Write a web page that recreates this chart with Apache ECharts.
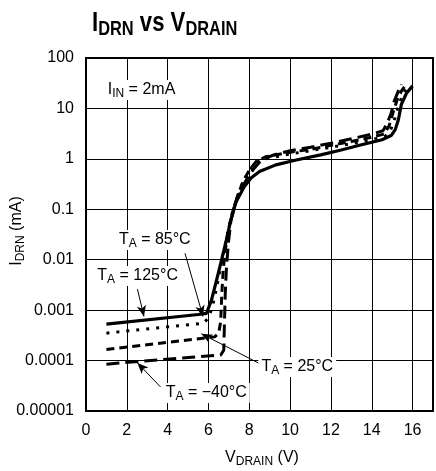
<!DOCTYPE html>
<html><head><meta charset="utf-8">
<script src="https://cdn.jsdelivr.net/npm/echarts@6/dist/echarts.min.js"></script>
<style>html,body{margin:0;padding:0;background:#fff}#c{width:436px;height:471px}</style>
</head><body><div id="c"></div>
<script>
// ---- data ----
const xTickValues = [0, 2, 4, 6, 8, 10, 12, 14, 16];
const yTickLabels = ['0.00001', '0.0001', '0.001', '0.01', '0.1', '1', '10', '100'];

// T_A = 125°C (solid)
const v125 = [1, 5.5, 5.9, 6.15, 6.4, 6.6, 6.85, 7.1, 7.35, 7.75, 8.1, 8.5, 9.3, 10.3, 11.5, 12.5, 13.5, 14.5, 14.95, 15.15, 15.3, 15.45, 15.7, 16.0];
const i125 = [0.00053, 0.00082, 0.00086, 0.0016, 0.004, 0.0085, 0.022, 0.062, 0.14, 0.28, 0.42, 0.56, 0.76, 0.95, 1.2, 1.5, 1.9, 2.4, 2.9, 3.8, 5.9, 12, 20, 28];
// T_A = 85°C (dotted)
const v85 = [1, 5.75, 6.0, 6.2, 6.4, 6.55, 6.7, 6.9, 7.1, 7.35, 7.65, 7.95, 8.3, 8.8, 10, 11, 12, 13, 14, 14.65, 14.9, 15.1, 15.3, 15.5, 15.7];
const i85 = [0.00035, 0.00055, 0.0007, 0.0012, 0.0028, 0.006, 0.012, 0.028, 0.065, 0.15, 0.32, 0.55, 0.85, 1.0, 1.25, 1.45, 1.7, 2.0, 2.4, 2.8, 3.5, 5.8, 11, 18, 25];
// T_A = 25°C (short dash)
const v25 = [1, 6.3, 6.5, 6.6, 6.65, 6.72, 6.82, 6.95, 7.15, 7.4, 7.7, 8.0, 8.35, 8.8, 10, 11, 12, 13, 14, 14.6, 14.85, 15.05, 15.25, 15.45, 15.6];
const i25 = [0.000166, 0.000295, 0.00035, 0.0006, 0.002, 0.006, 0.015, 0.035, 0.08, 0.17, 0.36, 0.6, 0.9, 1.1, 1.35, 1.55, 1.85, 2.2, 2.7, 3.1, 4.5, 8.5, 15, 22, 27];
// T_A = -40°C (long dash)
const vm40 = [1, 6.6, 6.75, 6.78, 6.82, 6.88, 6.98, 7.1, 7.4, 7.8, 8.2, 8.6, 9.2, 10, 11, 12, 13, 14, 14.55, 14.75, 14.95, 15.1, 15.3, 15.45];
const im40 = [0.000085, 0.000129, 0.00016, 0.0005, 0.002, 0.007, 0.022, 0.06, 0.17, 0.35, 0.62, 0.95, 1.2, 1.45, 1.7, 2.05, 2.5, 3.1, 3.6, 5, 8, 14, 22, 30];

const zip = (xs, ys) => xs.map((x, i) => [x, ys[i]]);

const FONT = 'Liberation Sans';
const rich = {
  n: { fontSize: 16, fontFamily: FONT, color: '#000', lineHeight: 20 },
  s: { fontSize: 12, fontFamily: FONT, color: '#000', lineHeight: 8, verticalAlign: 'bottom' }
};
function lbl(coord, text) {
  return {
    coord: coord,
    label: { show: true, position: 'inside', formatter: text, rich: rich,
             backgroundColor: '#fff', padding: [0, 3, 0, 3] }
  };
}
function arrow(a, b) { return [{ coord: a }, { coord: b }]; }

const chart = echarts.init(document.getElementById('c'), null, { renderer: 'canvas' });
const lineBase = { type: 'line', symbol: 'none', smooth: false, silent: true, z: 3 };

chart.setOption({
  animation: false,
  backgroundColor: '#fff',
  grid: { left: 86, top: 58, bottom: 60, right: -3, show: true, borderColor: '#000', borderWidth: 2, backgroundColor: 'transparent' },
  xAxis: {
    type: 'value', min: 0, max: 17, interval: 2,
    axisLine: { show: true, onZero: false, lineStyle: { color: '#000', width: 2 } },
    axisTick: { show: false },
    splitLine: { show: true, lineStyle: { color: '#000', width: 1 } },
    axisLabel: { fontSize: 16, fontFamily: FONT, color: '#000', margin: 12,
      formatter: v => (xTickValues.indexOf(v) >= 0 ? String(v) : '') }
  },
  yAxis: {
    type: 'log', logBase: 10, min: 0.00001, max: 100,
    axisLine: { show: true, lineStyle: { color: '#000', width: 2 } },
    axisTick: { show: false },
    minorTick: { show: false },
    splitLine: { show: true, lineStyle: { color: '#000', width: 1 } },
    axisLabel: { fontSize: 16, fontFamily: FONT, color: '#000', margin: 12,
      formatter: v => yTickLabels[Math.round(Math.log10(v)) + 5] || '' }
  },
  graphic: [
    { type: 'text', x: 92, y: 9, scaleX: 0.82, z: 10, style: {
        text: '{a|I}{b|DRN}{a| vs V}{b|DRAIN}',
        rich: {
          a: { fontSize: 27, fontWeight: 'bold', fontFamily: FONT, color: '#000', lineHeight: 30 },
          b: { fontSize: 20, fontWeight: 'bold', fontFamily: FONT, color: '#000', lineHeight: 14, verticalAlign: 'bottom' }
        } } },
    { type: 'text', x: 262, y: 458, z: 10, style: {
        text: '{n|V}{s|DRAIN}{n| (V)}', rich: rich, align: 'center', verticalAlign: 'middle' } },
    { type: 'text', x: 17, y: 231, rotation: Math.PI / 2, z: 10, style: {
        text: '{n|I}{s|DRN}{n| (mA)}', rich: rich, align: 'center', verticalAlign: 'middle' } }
  ],
  series: [
    Object.assign({}, lineBase, { name: '125', data: zip(v125, i125),
      lineStyle: { color: '#000', width: 3.2, type: 'solid' } }),
    Object.assign({}, lineBase, { name: '85', data: zip(v85, i85),
      lineStyle: { color: '#000', width: 3, type: [3, 7] } }),
    Object.assign({}, lineBase, { name: '25', data: zip(v25, i25),
      lineStyle: { color: '#000', width: 3, type: [8, 5] } }),
    Object.assign({}, lineBase, { name: '-40', data: zip(vm40, im40),
      lineStyle: { color: '#000', width: 3, type: [13, 6] } }),
    { type: 'line', data: [], silent: true, z: 5,
      markLine: {
        silent: true, symbol: ['none', 'arrow'], symbolSize: [7, 11],
        lineStyle: { color: '#000', width: 1, type: 'solid' },
        label: { show: false },
        data: [
          arrow([4.85, 0.0134], [5.73, 0.00075]),
          arrow([2.52, 0.0026], [2.84, 0.00075]),
          arrow([8.46, 0.000089], [5.65, 0.00034]),
          arrow([3.65, 0.00003], [2.52, 0.00009])
        ]
      },
      markPoint: {
        silent: true, symbol: 'circle', symbolSize: 0,
        itemStyle: { color: 'rgba(0,0,0,0)' },
        data: [
          lbl([2.72, 23.2], '{n|I}{s|IN}{n| = 2mA}'),
          lbl([3.37, 0.0245], '{n|T}{s|A}{n| = 85°C}'),
          lbl([2.53, 0.00475], '{n|T}{s|A}{n| = 125°C}'),
          lbl([10.35, 0.0000747], '{n|T}{s|A}{n| = 25°C}'),
          lbl([5.89, 0.0000228], '{n|T}{s|A}{n| = −40°C}')
        ]
      }
    }
  ]
});
</script></body></html>
